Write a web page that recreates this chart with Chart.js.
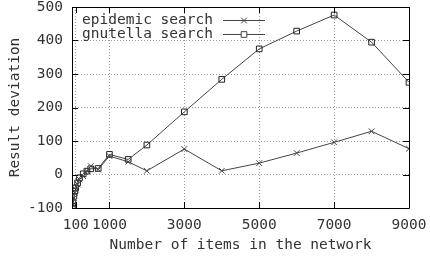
<!DOCTYPE html>
<html lang="en">
<head>
  <meta charset="UTF-8">
  <title>Result deviation</title>
  <script src="https://cdn.jsdelivr.net/npm/chart.js"></script>
  <style>
    html, body { margin: 0; padding: 0; background: #fff; }
    #wrap { width: 430px; height: 256px; }
  </style>
</head>
<body>
  <div id="wrap"><canvas id="chart" width="430" height="256"></canvas></div>
  <script>
    // data
    var items = [10, 25, 50, 75, 100, 150, 200, 300, 400, 500, 700, 1000, 1500, 2000, 3000, 4000, 5000, 6000, 7000, 8000, 9000];
    var epidemic = [-98, -90, -70, -55, -45, -30, -15, -5, 10, 25, 15, 55, 38, 11, 76, 11, 34, 64, 96, 129, 77];
    var gnutella = [-95, -85, -65, -50, -40, -25, -10, 2, 10, 17, 18, 60, 45, 88, 187, 284, 375, 428, 476, 395, 275];
    var xTicks = [100, 1000, 3000, 5000, 7000, 9000];
    var yTicks = [-100, 0, 100, 200, 300, 400, 500];
    var seriesNames = ['epidemic search', 'gnutella search'];

    var FONT = { family: "'DejaVu Sans Mono', 'Liberation Mono', monospace", size: 14.5 };
    var TICKFONT = { family: FONT.family, size: 14.5, lineHeight: 1 };
    var INK = '#333';

    function pts(ys) {
      return items.map(function (x, i) { return { x: x, y: ys[i] }; });
    }

    var frame = {
      id: 'frame',
      afterDatasetsDraw: function (chart) {
        var ctx = chart.ctx, a = chart.chartArea;
        var xs = chart.scales.x, ys = chart.scales.y;
        ctx.save();
        ctx.strokeStyle = '#000';
        ctx.lineWidth = 1;
        ctx.beginPath();
        ctx.rect(Math.round(a.left) + 0.5, Math.round(a.top) + 0.5, Math.round(a.right - a.left), Math.round(a.bottom - a.top));
        ctx.stroke();
        ctx.beginPath();
        xTicks.forEach(function (v) {
          var px = Math.round(xs.getPixelForValue(v)) + 0.5;
          ctx.moveTo(px, a.bottom); ctx.lineTo(px, a.bottom - 6);
          ctx.moveTo(px, a.top); ctx.lineTo(px, a.top + 6);
        });
        yTicks.forEach(function (v) {
          var py = Math.round(ys.getPixelForValue(v)) + 0.5;
          ctx.moveTo(a.left, py); ctx.lineTo(a.left + 6, py);
          ctx.moveTo(a.right, py); ctx.lineTo(a.right - 6, py);
        });
        ctx.stroke();

        // key, gnuplot style
        ctx.font = FONT.size + 'px ' + FONT.family;
        ctx.textBaseline = 'middle';
        ctx.textAlign = 'right';
        var rows = [a.top + 13, a.top + 27];
        chart.data.datasets.forEach(function (ds, i) {
          var y = Math.round(rows[i]);
          ctx.fillStyle = INK;
          ctx.fillText(seriesNames[i], 213, y);
          ctx.strokeStyle = ds.borderColor;
          ctx.beginPath();
          ctx.moveTo(223, y + 0.5); ctx.lineTo(265, y + 0.5);
          ctx.stroke();
          ctx.fillStyle = '#fff';
          Chart.helpers.drawPoint(ctx, {
            pointStyle: ds.pointStyle, radius: ds.pointRadius, borderWidth: 1
          }, 244, y + 0.5);
        });
        ctx.restore();
      }
    };

    new Chart(document.getElementById('chart'), {
      type: 'line',
      data: {
        datasets: [
          {
            label: seriesNames[0],
            data: pts(epidemic),
            borderColor: '#444',
            borderWidth: 1,
            pointStyle: 'crossRot',
            pointRadius: 4,
            pointBorderColor: '#444',
            pointBorderWidth: 1,
            tension: 0
          },
          {
            label: seriesNames[1],
            data: pts(gnutella),
            borderColor: '#444',
            borderWidth: 1,
            pointStyle: 'rect',
            pointRadius: 4,
            pointBorderColor: '#222',
            pointBackgroundColor: 'rgba(0,0,0,0)',
            pointBorderWidth: 1,
            tension: 0
          }
        ]
      },
      plugins: [frame],
      options: {
        responsive: false,
        animation: false,
        layout: { padding: 0 },
        plugins: { legend: { display: false }, tooltip: { enabled: false } },
        scales: {
          x: {
            type: 'linear',
            min: 0,
            max: 9000,
            afterBuildTicks: function (s) { s.ticks = xTicks.map(function (v) { return { value: v }; }); },
            afterFit: function (s) { s.height = 48; s.paddingLeft = 0; s.paddingRight = 21; },
            ticks: { color: INK, font: TICKFONT, padding: 10, maxRotation: 0, autoSkip: false,
                     callback: function (v) { return String(v); } },
            grid: { color: '#999', drawTicks: false },
            border: { display: false, dash: [1, 2] },
            title: { display: true, text: 'Number of items in the network', color: INK, font: FONT, padding: { top: 0, bottom: 2 } }
          },
          y: {
            min: -100,
            max: 500,
            afterBuildTicks: function (s) { s.ticks = yTicks.map(function (v) { return { value: v }; }); },
            afterFit: function (s) { s.width = 72; s.paddingTop = 7; s.paddingBottom = 0; },
            ticks: { color: INK, font: TICKFONT, padding: 9, callback: function (v) { return String(v); } },
            grid: { color: '#999', drawTicks: false },
            border: { display: false, dash: [1, 2] },
            title: { display: true, text: 'Result deviation', color: INK, font: FONT, padding: { top: 7, bottom: 0 } }
          }
        }
      }
    });
  </script>
</body>
</html>
